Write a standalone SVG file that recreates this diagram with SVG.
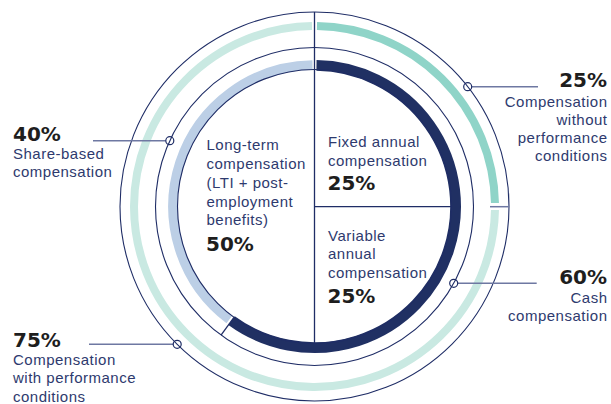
<svg xmlns="http://www.w3.org/2000/svg" width="611" height="404" viewBox="0 0 611 404">
<style>
.ring{fill:none;stroke:#1f2d66;stroke-width:1.1}
.band{fill:none}
.div{stroke:#1f2d66;stroke-width:1.3;fill:none}
.lead{stroke:#6e78a2;stroke-width:1.5;fill:none}
.mk{fill:none;stroke:#1f2d66;stroke-width:1.2}
.lbl{font-family:"Liberation Sans",Arial,sans-serif;font-size:15px;letter-spacing:0.5px;fill:#2e3a6e}
.pct{font-family:"DejaVu Sans",sans-serif;font-weight:bold;font-size:20px;fill:#1e1e1e}
.end{text-anchor:end}
</style>
<rect width="611" height="404" fill="#ffffff"/>
<g id="bands">
  <path class="band" stroke="#8fd4c8" stroke-width="8" d="M317,26 A180.5,180.5 0 0 1 494.97,203.03"/>
  <path class="band" stroke="#c9e9e2" stroke-width="8" d="M494.97,209.97 A180.5,180.5 0 1 1 311.98,26"/>
  <path class="band" stroke="#bccfe6" stroke-width="9.5" d="M229.34,319.5 A141.5,141.5 0 0 1 312.52,65"/>
  <path class="band" stroke="#203063" stroke-width="10.8" d="M316.48,65.4 A141.1,141.1 0 1 1 231.56,320.65"/>
</g>
<g id="rings">
  <circle class="ring" cx="314.5" cy="206.5" r="194.5"/>
  <circle class="ring" cx="314.5" cy="206.5" r="159"/>
  <circle class="ring" cx="314.5" cy="206.5" r="137"/>
</g>
<g id="connectors">
  <line class="div" x1="314.5" y1="12" x2="314.5" y2="343.5"/>
  <line class="div" x1="314.5" y1="206.7" x2="451.5" y2="206.7"/>
  <line class="lead" x1="490" y1="206.7" x2="509" y2="206.7"/>
  <line class="div" x1="233.97" y1="317.33" x2="221.04" y2="335.13"/>
  <line class="lead" x1="471.7" y1="86.7" x2="538" y2="86.7"/>
  <line class="lead" x1="93" y1="140.7" x2="165.8" y2="140.7"/>
  <line class="lead" x1="89" y1="344.3" x2="173.2" y2="344.3"/>
  <line class="lead" x1="457.7" y1="283.3" x2="536.7" y2="283.3"/>
  <circle class="mk" cx="467.7" cy="86.7" r="4"/>
  <circle class="mk" cx="169.8" cy="140.7" r="4"/>
  <circle class="mk" cx="177.2" cy="344.3" r="4"/>
  <circle class="mk" cx="453.7" cy="283.3" r="4"/>
</g>
<g id="long-term">
  <text class="lbl" x="206.5" y="150">Long-term</text>
  <text class="lbl" x="206.5" y="169">compensation</text>
  <text class="lbl" x="206.5" y="188">(LTI + post-</text>
  <text class="lbl" x="206.5" y="206.5">employment</text>
  <text class="lbl" x="206.5" y="225">benefits)</text>
  <text class="pct" x="206" y="250.7">50%</text>
</g>
<g id="fixed">
  <text class="lbl" x="328" y="147">Fixed annual</text>
  <text class="lbl" x="328" y="166">compensation</text>
  <text class="pct" x="327.5" y="190">25%</text>
</g>
<g id="variable">
  <text class="lbl" x="328" y="240.5">Variable</text>
  <text class="lbl" x="328" y="259">annual</text>
  <text class="lbl" x="328" y="277.5">compensation</text>
  <text class="pct" x="327.5" y="302.7">25%</text>
</g>
<g id="without-perf">
  <text class="pct end" x="607" y="87">25%</text>
  <text class="lbl end" x="607.5" y="106.5">Compensation</text>
  <text class="lbl end" x="607.5" y="124.8">without</text>
  <text class="lbl end" x="607.5" y="143.1">performance</text>
  <text class="lbl end" x="607.5" y="161.4">conditions</text>
</g>
<g id="share-based">
  <text class="pct" x="13" y="140.7">40%</text>
  <text class="lbl" x="13" y="159">Share-based</text>
  <text class="lbl" x="13" y="177.3">compensation</text>
</g>
<g id="with-perf">
  <text class="pct" x="13" y="346.7">75%</text>
  <text class="lbl" x="13" y="365">Compensation</text>
  <text class="lbl" x="13" y="383.3">with performance</text>
  <text class="lbl" x="13" y="401.5">conditions</text>
</g>
<g id="cash">
  <text class="pct end" x="607" y="284">60%</text>
  <text class="lbl end" x="607.5" y="303">Cash</text>
  <text class="lbl end" x="607.5" y="321.3">compensation</text>
</g>
</svg>
